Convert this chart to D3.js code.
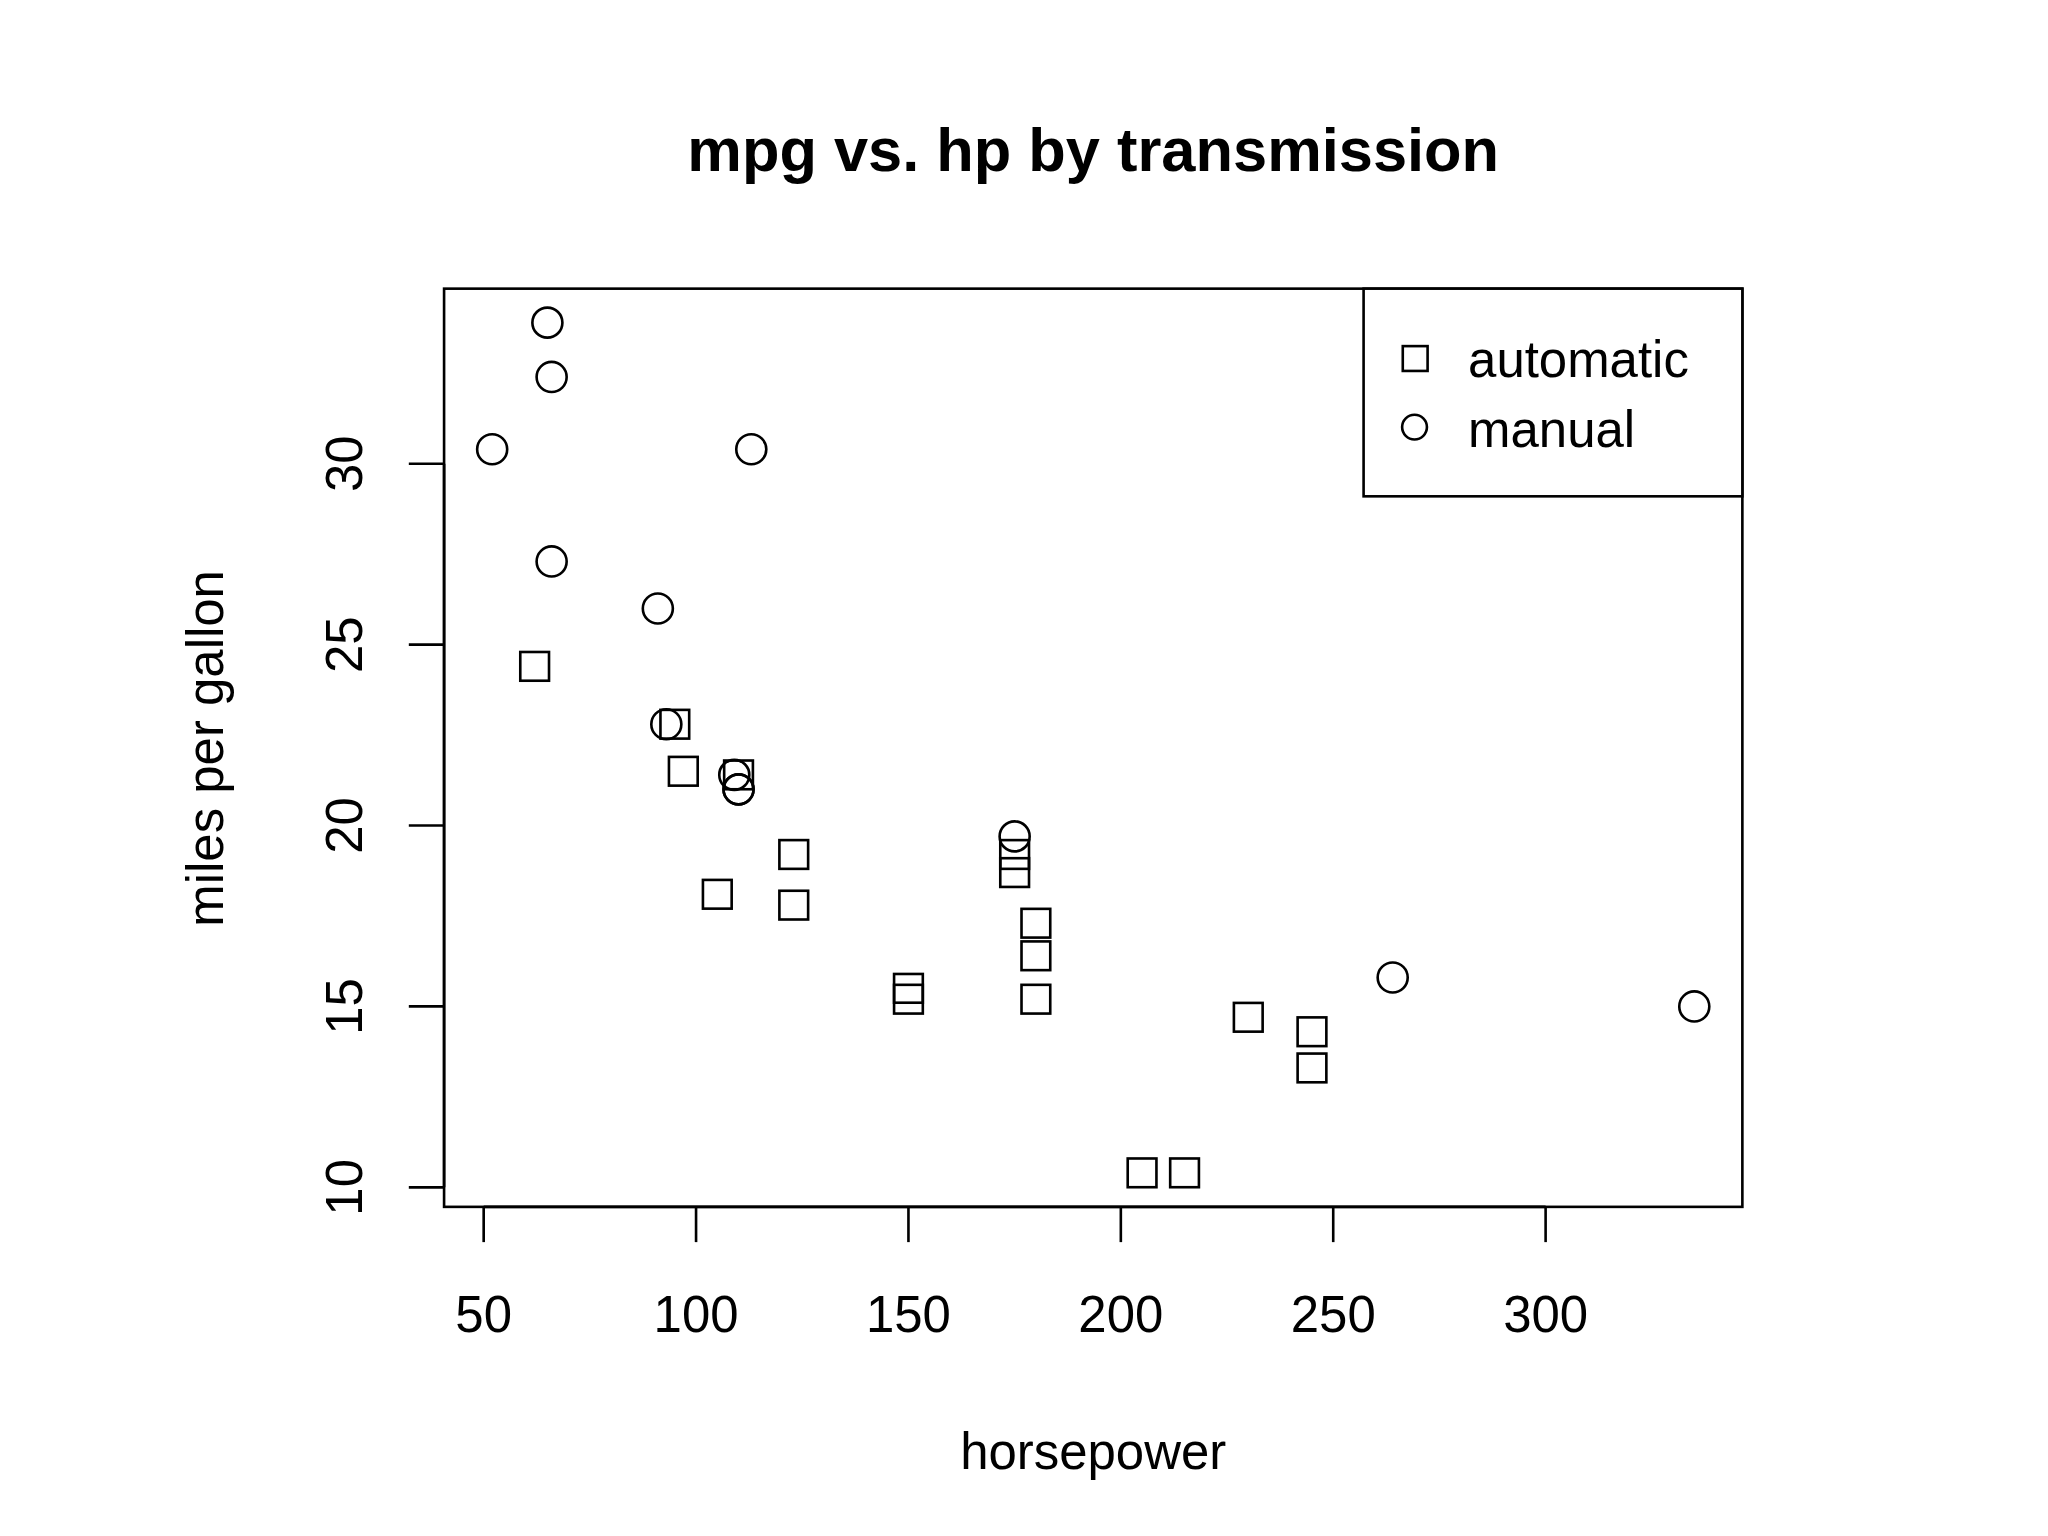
<!DOCTYPE html>
<html><head><meta charset="utf-8">
<script src="https://cdn.jsdelivr.net/npm/d3@7"></script>
<style>body{margin:0;background:#fff}text{font-family:"Liberation Sans",Arial,sans-serif;fill:#000}</style>
</head><body>
<script>
// mtcars: automatic (am=0) and manual (am=1)
var autoHp  = [110,175,105,245,62,95,123,123,180,180,180,205,215,230,97,150,150,245,175];
var autoMpg = [21.4,18.7,18.1,14.3,24.4,22.8,19.2,17.8,16.4,17.3,15.2,10.4,10.4,14.7,21.5,15.5,15.2,13.3,19.2];
var manHp   = [110,110,93,66,52,65,66,91,113,264,175,335,109];
var manMpg  = [21,21,22.8,32.4,30.4,33.9,27.3,26,30.4,15.8,19.7,15,21.4];
var xTicks = [50,100,150,200,250,300];
var yTicks = [10,15,20,25,30];

var svg = d3.select("body").append("svg")
    .attr("width", 2048).attr("height", 1536)
    .attr("viewBox", "0 0 1568 1176");

var L = 340, R = 1334, T = 221, B = 924;
var x = d3.scaleLinear().domain([40.68, 346.32]).range([L, R]);
var y = d3.scaleLinear().domain([9.46, 34.84]).range([B, T]);

svg.append("text").attr("x", 837).attr("y", 131).attr("text-anchor", "middle")
    .style("font-size", "47px").style("font-weight", "bold").text("mpg vs. hp by transmission");

svg.append("rect").attr("x", L).attr("y", T).attr("width", R - L).attr("height", B - T)
    .attr("fill", "none").attr("stroke", "#000").attr("stroke-width", 2);

// x axis
var gx = svg.append("g");
gx.append("line").attr("x1", x(50)).attr("x2", x(300)).attr("y1", B).attr("y2", B).attr("stroke", "#000").attr("stroke-width", 2);
gx.selectAll(".t").data(xTicks).enter().append("line")
    .attr("x1", d => x(d)).attr("x2", d => x(d)).attr("y1", B).attr("y2", B + 27)
    .attr("stroke", "#000").attr("stroke-width", 2);
gx.selectAll("text").data(xTicks).enter().append("text")
    .attr("x", d => x(d)).attr("y", 1020).attr("text-anchor", "middle")
    .style("font-size", "39px").text(d => d);

// y axis
var gy = svg.append("g");
gy.append("line").attr("x1", L).attr("x2", L).attr("y1", y(10)).attr("y2", y(30)).attr("stroke", "#000").attr("stroke-width", 2);
gy.selectAll(".t").data(yTicks).enter().append("line")
    .attr("x1", L - 27).attr("x2", L).attr("y1", d => y(d)).attr("y2", d => y(d))
    .attr("stroke", "#000").attr("stroke-width", 2);
gy.selectAll("text").data(yTicks).enter().append("text")
    .attr("transform", d => "translate(277," + y(d) + ") rotate(-90)")
    .attr("text-anchor", "middle").style("font-size", "39px").text(d => d);

svg.append("text").attr("x", 837).attr("y", 1125).attr("text-anchor", "middle")
    .style("font-size", "39px").text("horsepower");
svg.append("text").attr("transform", "translate(171,573) rotate(-90)").attr("text-anchor", "middle")
    .style("font-size", "39px").text("miles per gallon");

// points
var s = 22;
svg.selectAll(".sq").data(autoHp).enter().append("rect")
    .attr("x", (d, i) => x(d) - s / 2).attr("y", (d, i) => y(autoMpg[i]) - s / 2)
    .attr("width", s).attr("height", s).attr("fill", "none").attr("stroke", "#000").attr("stroke-width", 2);
svg.selectAll(".ci").data(manHp).enter().append("circle")
    .attr("cx", d => x(d)).attr("cy", (d, i) => y(manMpg[i])).attr("r", 11.5)
    .attr("fill", "none").attr("stroke", "#000").attr("stroke-width", 2);

// legend
var lg = svg.append("g");
lg.append("rect").attr("x", 1044).attr("y", T).attr("width", R - 1044).attr("height", 159)
    .attr("fill", "#fff").attr("stroke", "#000").attr("stroke-width", 2);
lg.append("rect").attr("x", 1074).attr("y", 265).attr("width", 19).attr("height", 19)
    .attr("fill", "none").attr("stroke", "#000").attr("stroke-width", 2);
lg.append("circle").attr("cx", 1083).attr("cy", 327).attr("r", 9.5)
    .attr("fill", "none").attr("stroke", "#000").attr("stroke-width", 2);
lg.append("text").attr("x", 1124).attr("y", 289).style("font-size", "39px").text("automatic");
lg.append("text").attr("x", 1124).attr("y", 342).style("font-size", "39px").text("manual");
</script>
</body></html>
